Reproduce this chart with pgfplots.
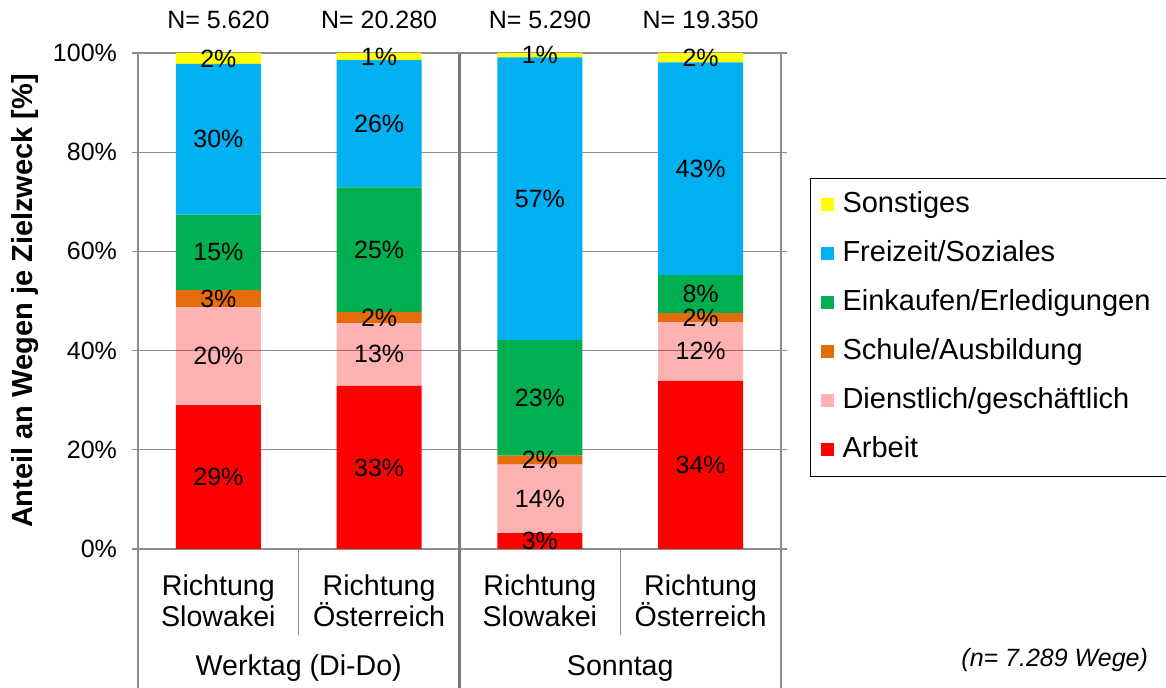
\documentclass[border=0pt]{standalone}
\usepackage{pgfplots}
\pgfplotsset{compat=1.18}
\usepackage{pgfplotstable}
\usepackage{fontspec}
\setmainfont{Liberation Sans}

\definecolor{cSonst}{HTML}{FFFF00}
\definecolor{cFrei}{HTML}{00B0F0}
\definecolor{cEink}{HTML}{00B050}
\definecolor{cSchul}{HTML}{E46C0A}
\definecolor{cArb}{HTML}{FF0000}
\definecolor{cGrid}{HTML}{8C8C8C}
\definecolor{cSep}{HTML}{7A7A7A}

% Anteile je Zielzweck in Prozent
\pgfplotstableread{
x arb dien schul eink frei sonst
0 29.0 19.8 3.4 15.2 30.4 2.2
1 32.9 12.7 2.2 25.1 25.7 1.4
2 3.2 13.9 1.7 23.3 57.0 0.9
3 33.9 11.9 1.8 7.6 42.9 1.9
}\wege

\pgfplotsset{
  /pgf/number format/assume math mode=true,
  zweck/.style={
    scale only axis, width=321.5pt, height=248pt,
    xmin=-0.5, xmax=3.5, ymin=0, ymax=100,
    ybar stacked, bar width=42.5pt, clip=false,
  },
}
\newcommand{\fa}{\fontsize{12.5}{15}\selectfont}
\newcommand{\fb}{\fontsize{14.3}{15.5}\selectfont}

\begin{document}
\begin{tikzpicture}
\begin{axis}[zweck,
  axis line style={draw=none},
  ymajorgrids, grid style={cGrid, line width=0.6pt},
  ytick={0,20,...,100}, yticklabels={0\%,20\%,40\%,60\%,80\%,100\%},
  ytick style={cGrid, line width=0.6pt}, tick align=outside, major tick length=3pt,
  yticklabel style={font=\fa, xshift=-4pt},
  xtick={0,1,2,3},
  xticklabels={{Richtung\\Slowakei},{Richtung\\Österreich},{Richtung\\Slowakei},{Richtung\\Österreich}},
  xticklabel style={align=center, font=\fb, anchor=center, yshift=-23pt},
  xtick style={draw=none},
  ylabel={Anteil an Wegen je Zielzweck [\%]},
  ylabel style={font=\bfseries\fontsize{14.5}{16}\selectfont, at={(axis description cs:-0.1757,0.5)}, anchor=center},
  reverse legend,
  legend cell align=left,
  legend style={at={(1.0451,0.748)}, anchor=north west, draw=black, line width=0.5pt,
    font=\fontsize{14.5}{16}\selectfont, inner xsep=5pt, inner ysep=4pt, row sep=6pt,
    nodes={inner ysep=2pt, inner xsep=4.5pt, text height=11pt, text depth=3.5pt}},
  legend image code/.code={\fill[#1] (0pt,-3.25pt) rectangle (6.5pt,3.25pt);},
]
\addplot[fill=cArb, draw=none] table[x=x,y=arb] {\wege};
\addlegendentry{Arbeit}
\addplot[fill=red, fill opacity=0.3, draw=none] table[x=x,y=dien] {\wege};
\addlegendentry{Dienstlich/geschäftlich}
\addplot[fill=cSchul, draw=none] table[x=x,y=schul] {\wege};
\addlegendentry{Schule/Ausbildung}
\addplot[fill=cEink, draw=none] table[x=x,y=eink] {\wege};
\addlegendentry{Einkaufen/Erledigungen}
\addplot[fill=cFrei, draw=none] table[x=x,y=frei] {\wege};
\addlegendentry{Freizeit/Soziales}
\addplot[fill=cSonst, draw=none] table[x=x,y=sonst] {\wege};
\addlegendentry{Sonstiges}

\coordinate (O) at (rel axis cs:0,0);
% frame and group separators
\draw[cGrid, line width=0.6pt] (rel axis cs:0,1) -- (rel axis cs:0,0) -- ++(0pt,-69.5pt);
\draw[cGrid, line width=0.6pt] (rel axis cs:1,1) -- (rel axis cs:1,0) -- ++(0pt,-69.5pt);
\draw[cSep, line width=1.2pt] (axis cs:1.5,100) -- (axis cs:1.5,0) -- ++(0pt,-69.5pt);
\draw[cGrid, line width=0.6pt] (axis cs:0.5,0) -- ++(0pt,-43pt);
\draw[cGrid, line width=0.6pt] (axis cs:2.5,0) -- ++(0pt,-43pt);

\node[font=\fb, yshift=-59.5pt] at (axis cs:0.5,0) {Werktag (Di-Do)};
\node[font=\fb, yshift=-59.5pt] at (axis cs:2.5,0) {Sonntag};

\node[font=\fa, yshift=16.5pt] at (axis cs:0,100) {N= 5.620};
\node[font=\fa, yshift=16.5pt] at (axis cs:1,100) {N= 20.280};
\node[font=\fa, yshift=16.5pt] at (axis cs:2,100) {N= 5.290};
\node[font=\fa, yshift=16.5pt] at (axis cs:3,100) {N= 19.350};

\node[font=\itshape\fa, anchor=east, xshift=508.5pt, yshift=-55.5pt] at (rel axis cs:0,0) {(n= 7.289 Wege)};
\end{axis}

% segment labels, centred in each segment, on top of all bars
\begin{axis}[zweck, hide axis,
  point meta=explicit,
  nodes near coords={\pgfmathprintnumber[fixed,precision=0,assume math mode=true]{\pgfplotspointmeta}\%},
  every node near coord/.append style={font=\fa, anchor=center},
]
\addplot[draw=none, fill=none] table[x=x,y=arb,meta=arb] {\wege};
\addplot[draw=none, fill=none] table[x=x,y=dien,meta=dien] {\wege};
\addplot[draw=none, fill=none] table[x=x,y=schul,meta=schul] {\wege};
\addplot[draw=none, fill=none] table[x=x,y=eink,meta=eink] {\wege};
\addplot[draw=none, fill=none] table[x=x,y=frei,meta=frei] {\wege};
\addplot[draw=none, fill=none] table[x=x,y=sonst,meta=sonst] {\wege};
\end{axis}

\pgfresetboundingbox
\path[use as bounding box] (O) ++(-69pt,-69.5pt) rectangle ++(583pt,344pt);
\end{tikzpicture}
\end{document}
